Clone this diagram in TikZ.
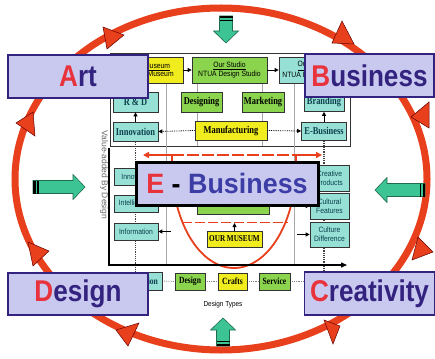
\documentclass[tikz,border=0pt]{standalone}
\usepackage{fontspec}
\usepackage{graphicx}
\setmainfont{Liberation Serif}
\newfontfamily\labf[FakeStretch=0.87]{Liberation Sans}
\newfontfamily\ebf[FakeStretch=0.96]{Liberation Sans}
\newfontfamily\sfc[FakeStretch=0.88]{Liberation Sans}
\newfontfamily\sfn{Liberation Sans}
\newfontfamily\rmc[FakeStretch=0.8]{Liberation Serif}
\usetikzlibrary{arrows.meta,backgrounds}
\definecolor{ered}{HTML}{E8401C}
\definecolor{tred}{HTML}{E8323C}
\definecolor{lav}{HTML}{C9C9F0}
\definecolor{navy}{HTML}{33237F}
\definecolor{ebl}{HTML}{3D3DA6}
\definecolor{cy}{HTML}{96E0D6}
\definecolor{gr}{HTML}{8AD44E}
\definecolor{ye}{HTML}{F0EC1E}
\definecolor{tealtxt}{HTML}{0D3F4C}
\definecolor{ga}{HTML}{3CC494}
\definecolor{gao}{HTML}{1F6B4E}
\definecolor{gridg}{HTML}{A8A8A8}
\newcommand\garrow[5]{%
  \begin{scope}[shift={(#1,#2)}, rotate=#3]
    \filldraw[fill=ga, draw=gao, line width=0.6pt] (0,-#5) -- (#4-12,-#5) -- (#4-12,-12.5) -- (#4,0) -- (#4-12,12.5) -- (#4-12,#5) -- (0,#5) -- cycle;
    \fill[black] (0,-#5) rectangle (2.5,#5);
    \fill[black] (4,-#5) rectangle (5.5,#5);
  \end{scope}}
\tikzset{
  bx/.style={draw=black!80, line width=0.7pt, inner sep=0pt, align=center},
  cbx/.style={bx, fill=cy, text=tealtxt},
  gbx/.style={bx, fill=gr, text=black},
  ybx/.style={bx, fill=ye, text=black},
  rmtxt/.style={font=\rmc\bfseries\fontsize{10.5}{11}\selectfont},
  rmsm/.style={font=\rmc\bfseries\fontsize{9.5}{10}\selectfont},
  rmbd/.style={font=\rmc\bfseries\fontsize{9}{9}\selectfont},
  sftxt/.style={font=\sfc\fontsize{7.7}{8.7}\selectfont},
  lab/.style={draw=navy, line width=1.5pt, fill=lav, inner sep=0pt, text=navy, font=\labf\bfseries\fontsize{30}{30}\selectfont},
  tri/.style={fill=ered, draw=black!60!red, line width=0.5pt},
  sarr/.style={line width=0.8pt, -{Triangle[width=4pt,length=4pt]}},
  rarr/.style={ered, line width=1.6pt, -{Triangle[width=6pt,length=6pt]}},
}
\begin{document}
\begin{tikzpicture}[x=1pt,y=-1pt]
\useasboundingbox (0,0) rectangle (435,358);
\begin{pgfonlayer}{background}
  \fill[white] (0,0) rectangle (435,358);
\end{pgfonlayer}

% big red ellipse and its triangles
\draw[ered, line width=7pt] (221,179) ellipse[x radius=206, y radius=171];
\filldraw[tri] (103,27) -- (124,35) -- (107,49) -- cycle;
\filldraw[tri] (16,123) -- (33,112) -- (35,136) -- cycle;
\filldraw[tri] (342,21) -- (332,43) -- (354,44) -- cycle;
\filldraw[tri] (429,102) -- (411,117) -- (429,128) -- cycle;
\filldraw[tri] (412,260) -- (418,237) -- (433,252) -- cycle;
\filldraw[tri] (324,320) -- (340,326) -- (333,344) -- cycle;
\filldraw[tri] (116,330) -- (139,323) -- (128,346) -- cycle;
\filldraw[tri] (28,242) -- (49,251) -- (33,266) -- cycle;

% red U shape and lines
\draw[ered, line width=1.8pt] (296,165) arc[start angle=0, end angle=180, x radius=62, y radius=103];
\draw[rarr] (172,165) -- (172,155) -- (143,155);
\draw[rarr] (296,165) -- (296,155) -- (322,155);
\draw[ered, line width=1.4pt, dash pattern=on 12pt off 3pt] (172,155) -- (296,155);
\draw[ered, line width=1pt, dash pattern=on 10pt off 3pt] (182,222) -- (288,222);

% axis
\draw[line width=1.3pt, -{Triangle[width=5pt,length=6pt]}] (109,148) -- (109,265) -- (347,265);

% boxes
\node[ybx, sftxt, minimum width=65pt, minimum height=26pt] (mus1) at (150.5,70) {\underline{Our Museum}\\NTUA Museum};
\node[gbx, sftxt, minimum width=75pt, minimum height=26pt] (studio) at (229.5,70) {\underline{Our Studio}\\NTUA Design Studio};
\node[cbx, sftxt, text=black, minimum width=66pt, minimum height=26pt] (mus2) at (312,70) {\underline{Our Shop}\\NTUA Design Shop};
\node[cbx, rmtxt, minimum width=45pt, minimum height=20pt] (rd) at (135.5,102) {R \& D};
\node[gbx, rmtxt, minimum width=41pt, minimum height=20pt] (designing) at (201.5,102) {Designing};
\node[gbx, rmtxt, minimum width=42pt, minimum height=20pt] (marketing) at (263,102) {Marketing};
\node[cbx, rmtxt, minimum width=40pt, minimum height=19pt] (branding) at (324,102) {Branding};
\node[cbx, rmtxt, minimum width=45pt, minimum height=19pt] (innov1) at (135.5,131.5) {Innovation};
\node[ybx, rmtxt, minimum width=72pt, minimum height=19pt] (manuf) at (231,130.5) {Manufacturing};
\node[cbx, rmtxt, minimum width=45pt, minimum height=18pt] (ebus) at (324,131) {E-Business};

\node[cbx, sftxt, minimum width=46pt, minimum height=17pt] (innov2) at (137,176.5) {Innovation};
\node[cbx, sftxt, minimum width=44pt, minimum height=17pt] (intel) at (136,203.5) {Intelligence};
\node[cbx, sftxt, minimum width=44pt, minimum height=17pt] (info) at (136,231.5) {Information};
\node[cbx, sftxt, minimum width=39pt, minimum height=26pt] (creative) at (329.5,178) {Creative\\Products};
\node[cbx, sftxt, minimum width=39pt, minimum height=26pt] (cultural) at (329.5,206) {Cultural\\Features};
\node[cbx, sftxt, minimum width=39pt, minimum height=25pt] (cultdiff) at (329.5,234.5) {Culture\\Difference};
\node[gbx, rmbd, minimum width=72pt, minimum height=18pt] (ourstudio) at (233,205) {OUR STUDIO};
\node[ybx, rmbd, minimum width=55pt, minimum height=16pt] (ourmuseum) at (234.5,239) {OUR MUSEUM};

\node[cbx, rmsm, minimum width=44pt, minimum height=18pt] (deco) at (140,281) {Decoration};
\node[gbx, rmsm, minimum width=30pt, minimum height=17pt] (design) at (190,281.5) {Design};
\node[ybx, rmsm, minimum width=29pt, minimum height=17pt] (crafts) at (232.5,281.5) {Crafts};
\node[gbx, rmsm, minimum width=31pt, minimum height=17pt] (service) at (274.5,281.5) {Service};
\node[font=\sfc\fontsize{7.3}{8}\selectfont] (dtypes) at (223,305) {Design Types};
\node[rotate=-90, font=\sfn\fontsize{8.5}{9}\selectfont, text=black!60] (vtxt) at (104,175) {Value-added By Design};

% small arrows
\draw[sarr] (mus1.east) -- (studio.west);
\draw[sarr] (studio.east) -- (mus2.west);
\draw[sarr] (innov1.north) -- (rd.south);
\draw[sarr] (ebus.north) -- (branding.south);
\draw[sarr, densely dotted] (manuf.west) -- (innov1.east);
\draw[sarr, densely dotted] (manuf.east) -- (ebus.west);
\coordinate (infoin) at (171,231.5);
\coordinate (cdin) at (297,234.5);
\coordinate (cfin) at (297,206);
\coordinate (rline) at (234.5,223);
\draw[sarr, line width=1.2pt] (infoin) -- (info.east);
\draw[sarr, line width=1.2pt] (cdin) -- (cultdiff.west);
\draw[sarr, line width=1.2pt] (cfin) -- (cultural.west);
\draw[sarr] (ourmuseum.north) -- (rline);

% green arrows
\garrow{226}{16}{-90}{27}{6.5}
\garrow{223}{346}{90}{28}{6.5}
\garrow{33}{187}{0}{52}{6.5}
\garrow{425}{190}{180}{50}{6.5}

% labels
\node[lab, minimum width=140pt, minimum height=43pt] (art) at (78,76.5) {\textcolor{tred}{A}rt};
\node[lab, minimum width=129pt, minimum height=43pt] (business) at (369.5,75.5) {\textcolor{tred}{B}usiness};
\node[lab, minimum width=140pt, minimum height=42pt] (designl) at (78,294) {\textcolor{tred}{D}esign};
\node[lab, minimum width=130pt, minimum height=43pt] (creativity) at (369.5,293.5) {\textcolor{tred}{C}reativity};
\node[draw=black, line width=3pt, fill=lav, inner sep=0pt, text=ebl, font=\ebf\bfseries\fontsize{28}{28}\selectfont, minimum width=182pt, minimum height=43pt] (ebusiness) at (227,183.5) {\textcolor{tred}{E} \textcolor{black}{-} Business};

% background lines
\begin{pgfonlayer}{background}
  \draw[black!80, line width=0.8pt] (110,53) rectangle (350,146);
  \draw[gridg, line width=0.8pt] (166,83) -- (166,265);
  \draw[gridg, line width=0.8pt] (294,83) -- (294,265);
  \draw[gridg, line width=0.8pt] (197,83) -- (197,146);
  \draw[gridg, line width=0.8pt] (262,83) -- (262,146);
  \draw[black!75, densely dotted, line width=1.2pt] (innov1.south) -- (innov1.south |- deco.north);
  \draw[black!75, densely dotted, line width=1.2pt] (ebus.south) -- (ebus.south |- creativity.north);
  \draw[black!50, densely dotted, line width=0.8pt] (deco.east) -- (design.west);
  \draw[black!50, densely dotted, line width=0.8pt] (design.east) -- (crafts.west);
  \draw[black!50, densely dotted, line width=0.8pt] (crafts.east) -- (service.west);
  \draw[black!50, densely dotted, line width=0.8pt] (service.east) -- (service.east -| creativity.west);
\end{pgfonlayer}
\end{tikzpicture}
\end{document}
